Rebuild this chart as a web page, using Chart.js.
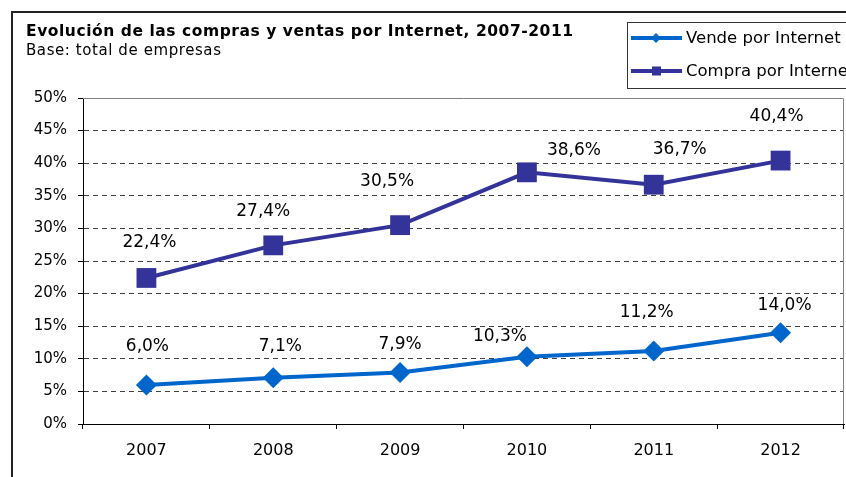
<!DOCTYPE html>
<html lang="es">
<head>
<meta charset="utf-8">
<title>Evolución de las compras y ventas por Internet, 2007-2011</title>
<script src="https://cdn.jsdelivr.net/npm/chart.js@4.4.1/dist/chart.umd.min.js"></script>
<style>
    html, body { margin: 0; padding: 0; background: #fff; }
    #grafico { display: block; }
</style>
</head>
<body>
<canvas id="grafico" width="846" height="477"></canvas>
<script>
// Datos (porcentaje sobre el total de empresas)
const categorias = ['2007', '2008', '2009', '2010', '2011', '2012'];
const vendePorInternet = [6.0, 7.1, 7.9, 10.3, 11.2, 14.0];
const compraPorInternet = [22.4, 27.4, 30.5, 38.6, 36.7, 40.4];
const marcasEjeY = [0, 5, 10, 15, 20, 25, 30, 35, 40, 45, 50];

const tituloTexto = 'Evolución de las compras y ventas por Internet, 2007-2011';
const subtituloTexto = 'Base: total de empresas';

const COLOR_VENDE = '#0066CC';
const COLOR_COMPRA = '#333399';
const FUENTE = '"DejaVu Sans", "Liberation Sans", Arial, sans-serif';

// Las etiquetas del original se movieron a mano: desplazamiento [dx, dy] respecto al punto
const desplazamientoVende = [[1, -38], [7, -31], [0, -28], [-27, -20], [-7, -38], [4, -27]];
const desplazamientoCompra = [[3, -35], [-10, -34], [-13, -44], [47, -22], [26, -35], [-4, -44]];

let graficoInternet = null;

function formatoPorcentaje(valor) {
    return valor.toFixed(1).replace('.', ',') + '%';
}

// Escribe un texto estirándolo con letterSpacing hasta el ancho que tiene en el original
function textoConAncho(ctx, texto, x, y, ancho) {
    const anchoBase = ctx.measureText(texto).width;
    if ('letterSpacing' in ctx) {
        ctx.letterSpacing = Math.max(0, (ancho - anchoBase) / (texto.length - 1)).toFixed(2) + 'px';
    }
    ctx.fillText(texto, x, y);
    if ('letterSpacing' in ctx) ctx.letterSpacing = '0px';
}

/**
 * Marco exterior, título, subtítulo y leyenda con recuadro
 */
const marcoPlugin = {
    id: 'marco',
    beforeDraw(chart) {
        const ctx = chart.ctx;
        ctx.save();
        ctx.fillStyle = '#fff';
        ctx.fillRect(0, 0, chart.width, chart.height);

        // marco exterior (se sale del lienzo por la derecha y por abajo)
        ctx.strokeStyle = '#222';
        ctx.lineWidth = 2;
        ctx.beginPath();
        ctx.moveTo(12, chart.height + 5);
        ctx.lineTo(12, 12);
        ctx.lineTo(chart.width + 5, 12);
        ctx.stroke();

        // título y subtítulo
        ctx.fillStyle = '#000';
        ctx.textAlign = 'left';
        ctx.textBaseline = 'alphabetic';
        ctx.font = 'bold 15.5px ' + FUENTE;
        textoConAncho(ctx, tituloTexto, 26, 36, 547);
        ctx.font = '15px ' + FUENTE;
        textoConAncho(ctx, subtituloTexto, 26, 55, 195);

        // leyenda
        ctx.strokeStyle = '#333';
        ctx.lineWidth = 1;
        ctx.strokeRect(627.5, 22.5, 240, 66);

        const filas = [
            { texto: 'Vende por Internet', color: COLOR_VENDE, y: 38, estilo: 'rombo' },
            { texto: 'Compra por Internet', color: COLOR_COMPRA, y: 71, estilo: 'cuadrado' }
        ];
        filas.forEach(fila => {
            ctx.strokeStyle = fila.color;
            ctx.lineWidth = 4;
            ctx.beginPath();
            ctx.moveTo(631, fila.y);
            ctx.lineTo(682, fila.y);
            ctx.stroke();
            ctx.fillStyle = fila.color;
            if (fila.estilo === 'rombo') {
                ctx.beginPath();
                ctx.moveTo(656, fila.y - 5);
                ctx.lineTo(661, fila.y);
                ctx.lineTo(656, fila.y + 5);
                ctx.lineTo(651, fila.y);
                ctx.closePath();
                ctx.fill();
            } else {
                ctx.fillRect(652, fila.y - 4.5, 9, 9);
            }
            ctx.fillStyle = '#000';
            ctx.font = '16.5px ' + FUENTE;
            ctx.textBaseline = 'middle';
            ctx.fillText(fila.texto, 686, fila.y + 1);
        });
        ctx.restore();
    },
    beforeDatasetsDraw(chart) {
        // borde gris arriba y a la derecha del área de trazado
        const { ctx, chartArea } = chart;
        ctx.save();
        ctx.strokeStyle = '#808080';
        ctx.lineWidth = 1;
        ctx.beginPath();
        ctx.moveTo(chartArea.left, chartArea.top + 0.5);
        ctx.lineTo(chartArea.right - 0.5, chartArea.top + 0.5);
        ctx.lineTo(chartArea.right - 0.5, chartArea.bottom);
        ctx.stroke();
        ctx.restore();
    }
};

/**
 * Etiquetas de valor encima de cada punto
 */
const etiquetasPlugin = {
    id: 'etiquetas',
    afterDatasetsDraw(chart) {
        const ctx = chart.ctx;
        const desplazamientos = [desplazamientoVende, desplazamientoCompra];
        ctx.save();
        ctx.font = '17px ' + FUENTE;
        ctx.fillStyle = '#000';
        ctx.textAlign = 'center';
        ctx.textBaseline = 'middle';
        chart.data.datasets.forEach((dataset, di) => {
            const meta = chart.getDatasetMeta(di);
            meta.data.forEach((punto, i) => {
                const [dx, dy] = desplazamientos[di][i];
                ctx.fillText(formatoPorcentaje(dataset.data[i]), punto.x + dx, punto.y + dy);
            });
        });
        ctx.restore();
    }
};

function crearGrafico() {
    const ctx = document.getElementById('grafico').getContext('2d');

    graficoInternet = new Chart(ctx, {
        type: 'line',
        data: {
            labels: categorias,
            datasets: [
                {
                    label: 'Vende por Internet',
                    data: vendePorInternet,
                    borderColor: COLOR_VENDE,
                    backgroundColor: COLOR_VENDE,
                    borderWidth: 4,
                    pointStyle: 'rectRot',
                    pointRadius: 10.5,
                    pointBorderWidth: 0,
                    tension: 0
                },
                {
                    label: 'Compra por Internet',
                    data: compraPorInternet,
                    borderColor: COLOR_COMPRA,
                    backgroundColor: COLOR_COMPRA,
                    borderWidth: 4,
                    pointStyle: 'rect',
                    pointRadius: 14,
                    pointBorderWidth: 0,
                    tension: 0
                }
            ]
        },
        options: {
            responsive: false,
            animation: false,
            // autoPadding desactivado: si no, el tamaño de los marcadores estrecha el área
            layout: { autoPadding: false, padding: { top: 98, left: 0, right: 2, bottom: 0 } },
            plugins: {
                legend: { display: false },
                title: { display: false },
                tooltip: { enabled: false }
            },
            scales: {
                x: {
                    offset: true,
                    grid: {
                        offset: true,
                        drawOnChartArea: false,
                        drawTicks: true,
                        tickLength: 5,
                        tickColor: '#000'
                    },
                    border: { display: true, color: '#000', width: 1 },
                    ticks: {
                        color: '#000',
                        font: { family: FUENTE, size: 16 },
                        padding: 12,
                        maxRotation: 0
                    },
                    afterFit(escala) {
                        escala.height = 53;
                        escala.paddingLeft = 0;
                        escala.paddingRight = 0;
                    }
                },
                y: {
                    min: marcasEjeY[0],
                    max: marcasEjeY[marcasEjeY.length - 1],
                    afterBuildTicks(escala) {
                        escala.ticks = marcasEjeY.map(v => ({ value: v }));
                    },
                    grid: {
                        color: c => (c.tick && (c.tick.value === 0 || c.tick.value === 50)) ? 'rgba(0,0,0,0)' : '#404040',
                        lineWidth: 1,
                        tickLength: 5,
                        tickColor: '#000'
                    },
                    border: { display: true, color: '#000', width: 1, dash: [5, 4] },
                    ticks: {
                        color: '#000',
                        font: { family: FUENTE, size: 15 },
                        padding: 11,
                        callback: v => v + '%'
                    },
                    afterFit(escala) { escala.width = 83; }
                }
            }
        },
        plugins: [marcoPlugin, etiquetasPlugin]
    });
}

crearGrafico();
</script>
</body>
</html>
